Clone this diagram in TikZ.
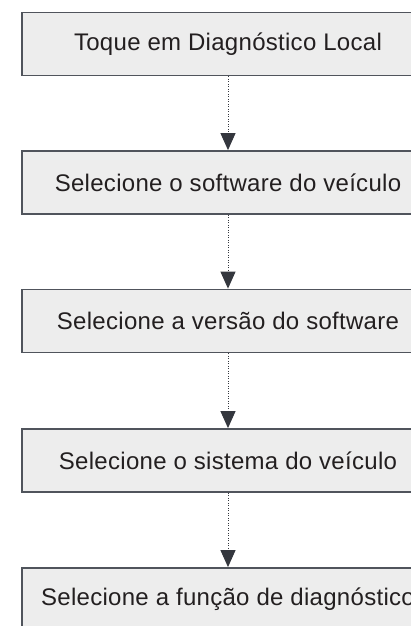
\documentclass[tikz,border=0pt]{standalone}
\usepackage{fontspec}
\setmainfont{Liberation Sans}[LetterSpace=1.2]
\usetikzlibrary{arrows.meta}
\definecolor{boxfill}{HTML}{EDEDED}
\definecolor{boxline}{HTML}{50545C}
\definecolor{txt}{HTML}{231F20}
\definecolor{arr}{HTML}{34373E}
\tikzset{
  stepbox/.style={draw=boxline, line width=1.8pt, fill=boxfill, minimum width=412pt, minimum height=63pt, inner sep=0pt, text=txt, font=\fontsize{24pt}{28pt}\selectfont},
  flowarrow/.style={draw=arr, line width=1pt, dash pattern=on 1pt off 1.5pt, -{Triangle[width=15pt,length=17pt]}}
}
\begin{document}
\begin{tikzpicture}
\useasboundingbox (0,0) rectangle (411pt,-626pt);
\clip (0,0) rectangle (411pt,-626pt);
\node[stepbox] (b1) at (228pt,-44pt) {Toque em Diagnóstico Local};
\node[stepbox] (b2) at (228pt,-182.5pt) {Selecione o software do veículo};
\node[stepbox] (b3) at (228pt,-321pt) {Selecione a versão do software};
\node[stepbox] (b4) at (228pt,-460.5pt) {Selecione o sistema do veículo};
\node[stepbox] (b5) at (228pt,-599.5pt) {Selecione a função de diagnóstico};
\draw[flowarrow] (b1.south) -- (b2.north);
\draw[flowarrow] (b2.south) -- (b3.north);
\draw[flowarrow] (b3.south) -- (b4.north);
\draw[flowarrow] (b4.south) -- (b5.north);
\end{tikzpicture}
\end{document}
